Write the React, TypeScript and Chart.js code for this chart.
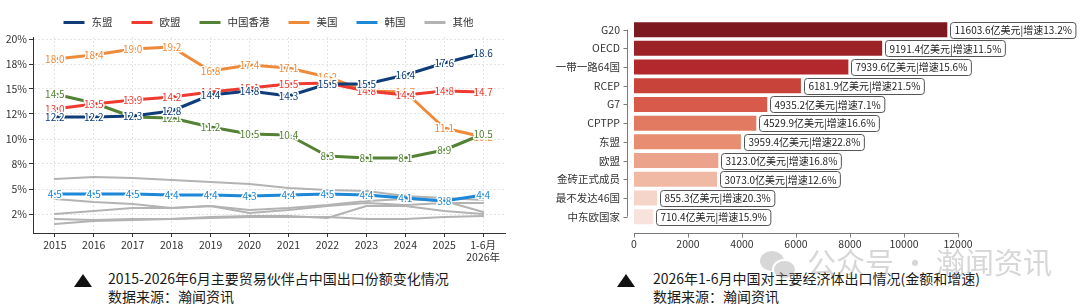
import React, { useEffect, useRef } from 'react';
import { Chart, registerables } from 'chart.js';

Chart.register(...registerables);

const FONT = '"Noto Sans CJK SC", "Noto Sans", sans-serif';

// ---- Export share by partner (percent of China's exports) ----
const years: (string | string[])[] = [
  '2015', '2016', '2017', '2018', '2019', '2020', '2021', '2022', '2023', '2024', '2025', ['1-6月', '2026年'],
];
const shareTickValues = [2.5, 5, 7.5, 10, 12.5, 15, 17.5, 20];
const shareTickLabels = ['2%', '5%', '8%', '10%', '12%', '15%', '18%', '20%'];

const asean = [12.2, 12.2, 12.3, 12.8, 14.4, 14.8, 14.3, 15.5, 15.5, 16.4, 17.6, 18.6];
const eu = [13.0, 13.5, 13.9, 14.2, 14.7, 15.1, 15.5, 15.6, 14.8, 14.4, 14.8, 14.7];
const hongKong = [14.5, 13.6, 12.2, 12.1, 11.2, 10.5, 10.4, 8.3, 8.1, 8.1, 8.9, 10.5];
const usa = [18.0, 18.4, 19.0, 19.2, 16.8, 17.4, 17.1, 16.2, 14.8, 14.7, 11.1, 10.2];
const korea = [4.5, 4.5, 4.5, 4.4, 4.4, 4.3, 4.4, 4.5, 4.4, 4.1, 3.8, 4.4];
const otherA = [6.0, 6.2, 6.1, 5.9, 5.7, 5.5, 5.1, 4.9, 4.8, 4.3, 4.1, 3.9];
const otherB = [4.0, 3.7, 3.5, 3.1, 3.3, 2.9, 3.1, 3.4, 3.8, 4.0, 3.8, 2.7];
const otherC = [2.5, 2.8, 3.1, 3.1, 3.3, 2.6, 2.9, 3.3, 3.6, 3.4, 3.6, 3.6];
const otherD = [2.0, 1.9, 2.0, 2.0, 2.2, 2.3, 2.3, 2.1, 3.3, 3.3, 2.8, 2.5];
const otherE = [1.5, 1.8, 1.9, 2.0, 2.1, 2.2, 2.2, 2.2, 2.0, 2.0, 2.2, 2.3];

// ---- Exports to major economies, Jan-Jun 2026 ----
const regions = ['G20', 'OECD', '一带一路64国', 'RCEP', 'G7', 'CPTPP', '东盟', '欧盟', '金砖正式成员', '最不发达46国', '中东欧国家'];
const exportValues = [11603.6, 9191.4, 7939.6, 6181.9, 4935.2, 4529.9, 3959.4, 3123.0, 3073.0, 855.3, 710.4];
const growthRates = [13.2, 11.5, 15.6, 21.5, 7.1, 16.6, 22.8, 16.8, 12.6, 20.3, 15.9];
const valueTicks = [0, 2000, 4000, 6000, 8000, 10000, 12000];

const barColors = ['#7d1a21', '#9b2227', '#b2282c', '#c8433a', '#d85a4a', '#e27a62', '#e88c72', '#eca38b', '#efb9a4', '#f5d5c9', '#f8e3dc'];
const GREY = '#b3b3b3';
const LEGEND_COUNT = 6;

// Value labels with a white halo, drawn right after each series so later series sit on top.
const pointLabels = {
  id: 'pointLabels',
  afterDatasetDraw(chart: any, args: any) {
    const ds = chart.data.datasets[args.index];
    if (!ds.values) return;
    const ctx = chart.ctx;
    ctx.save();
    ctx.font = `10px ${FONT}`;
    ctx.textAlign = 'center';
    ctx.textBaseline = 'middle';
    ctx.lineJoin = 'round';
    ctx.lineWidth = 3;
    ctx.strokeStyle = '#ffffff';
    ctx.fillStyle = ds.borderColor;
    args.meta.data.forEach((pt: any, i: number) => {
      const t = (ds.values[i] as number).toFixed(1);
      ctx.strokeText(t, pt.x, pt.y + 0.5);
      ctx.fillText(t, pt.x, pt.y + 0.5);
    });
    ctx.restore();
  },
};

// Single-row legend with line swatches, centred above the plot.
const lineLegend = {
  id: 'lineLegend',
  afterDraw(chart: any) {
    const ctx = chart.ctx;
    const items = chart.data.datasets.slice(0, LEGEND_COUNT);
    const swatch = 21;
    const gapText = 7;
    const gapItem = 19;
    ctx.save();
    ctx.font = `10.5px ${FONT}`;
    ctx.textBaseline = 'middle';
    const widths = items.map((ds: any) => swatch + gapText + ctx.measureText(ds.label).width);
    const total = widths.reduce((a: number, b: number) => a + b, 0) + gapItem * (items.length - 1);
    let x = chart.width / 2 - 1.5 - total / 2;
    const y = 22.5;
    items.forEach((ds: any, i: number) => {
      ctx.fillStyle = ds.borderColor;
      ctx.fillRect(x, y - 1.5, swatch, 3);
      ctx.fillStyle = '#333';
      ctx.fillText(ds.label, x + swatch + gapText, y);
      x += widths[i] + gapItem;
    });
    ctx.restore();
  },
};

function ShareChart() {
  const ref = useRef<HTMLCanvasElement>(null);
  useEffect(() => {
    const toPoints = (arr: number[]) => arr.map((v, i) => ({ x: i, y: v }));
    const main = [
      { label: '东盟', values: asean, color: '#0f3d7a' },
      { label: '欧盟', values: eu, color: '#ee3a31' },
      { label: '中国香港', values: hongKong, color: '#548235' },
      { label: '美国', values: usa, color: '#ee8b3b' },
      { label: '韩国', values: korea, color: '#1c88d7' },
    ].map((s) => ({
      label: s.label,
      data: toPoints(s.values),
      values: s.values,
      borderColor: s.color,
      backgroundColor: s.color,
      borderWidth: 3,
    }));
    const others = [otherA, otherB, otherC, otherD, otherE].map((arr) => ({
      label: '其他',
      data: toPoints(arr),
      borderColor: GREY,
      backgroundColor: GREY,
      borderWidth: 2,
    }));

    const chart = new Chart(ref.current as HTMLCanvasElement, {
      type: 'line',
      data: { datasets: [...main, ...others] as any },
      options: {
        responsive: false,
        animation: false,
        layout: { padding: { left: 0, right: 35, top: 37, bottom: 0 } },
        elements: {
          point: { radius: 0, hoverRadius: 0 },
          line: { tension: 0, borderJoinStyle: 'round', borderCapStyle: 'round' },
        },
        plugins: {
          tooltip: { enabled: false },
          legend: { display: false },
        },
        scales: {
          x: {
            type: 'linear',
            min: -0.56,
            max: 11.56,
            afterBuildTicks: (s: any) => {
              s.ticks = years.map((_, i) => ({ value: i }));
            },
            afterFit: (s: any) => {
              s.height = 29;
            },
            grid: {
              color: '#e4e4e4',
              tickColor: '#333',
              tickLength: 4,
              tickBorderDash: [],
            },
            border: { display: true, color: '#333', width: 1, dash: [2, 2] },
            ticks: {
              padding: 3,
              color: '#333',
              maxRotation: 0,
              autoSkip: false,
              font: { family: FONT, size: 10.5, lineHeight: 1.05 },
              callback: (v: any) => years[v as number],
            },
          },
          y: {
            min: 0.6,
            max: 20.2,
            afterBuildTicks: (s: any) => {
              s.ticks = shareTickValues.map((v) => ({ value: v }));
            },
            afterFit: (s: any) => {
              s.width = 33;
            },
            grid: {
              color: '#e4e4e4',
              tickColor: '#333',
              tickLength: 4,
              tickBorderDash: [],
            },
            border: { display: true, color: '#333', width: 1, dash: [2, 2] },
            ticks: {
              padding: 2,
              color: '#333',
              font: { family: FONT, size: 10.5 },
              callback: (_v: any, idx: number) => shareTickLabels[idx],
            },
          },
        },
      } as any,
      plugins: [pointLabels, lineLegend],
    });
    return () => chart.destroy();
  }, []);
  return <canvas ref={ref} width={540} height={262} style={{ position: 'absolute', left: 0, top: 0 }} />;
}

// Axis spines offset from the bars and trimmed to the tick range.
const trimmedSpines = {
  id: 'trimmedSpines',
  afterDraw(chart: any) {
    const { ctx, chartArea, scales } = chart;
    const xs = scales.x;
    const ys = scales.y;
    ctx.save();
    ctx.strokeStyle = '#7a7a7a';
    ctx.lineWidth = 1;
    ctx.beginPath();
    const sx = Math.round(chartArea.left - 7) + 0.5;
    const yTop = ys.getPixelForValue(0);
    const yBot = ys.getPixelForValue(regions.length - 1);
    ctx.moveTo(sx, yTop);
    ctx.lineTo(sx, yBot);
    regions.forEach((_, i) => {
      const yp = Math.round(ys.getPixelForValue(i)) + 0.5;
      ctx.moveTo(sx - 4, yp);
      ctx.lineTo(sx, yp);
    });
    const by = Math.round(chartArea.bottom + 7) + 0.5;
    ctx.moveTo(xs.getPixelForValue(valueTicks[0]), by);
    ctx.lineTo(xs.getPixelForValue(valueTicks[valueTicks.length - 1]), by);
    valueTicks.forEach((v) => {
      const xp = Math.round(xs.getPixelForValue(v)) + 0.5;
      ctx.moveTo(xp, by);
      ctx.lineTo(xp, by + 4);
    });
    ctx.stroke();
    ctx.restore();
  },
};

// Boxed amount / growth annotation at the end of each bar.
const barLabels = {
  id: 'barLabels',
  afterDatasetsDraw(chart: any) {
    const ctx = chart.ctx;
    const meta = chart.getDatasetMeta(0);
    ctx.save();
    ctx.font = `10px ${FONT}`;
    ctx.textBaseline = 'middle';
    meta.data.forEach((bar: any, i: number) => {
      const text = `${exportValues[i].toFixed(1)}亿美元|增速${growthRates[i].toFixed(1)}%`;
      const w = ctx.measureText(text).width;
      const h = 16;
      const bx = Math.round(bar.x + 3) + 0.5;
      const by = Math.round(bar.y - h / 2) + 0.5;
      ctx.beginPath();
      ctx.roundRect(bx, by, w + 8, h, 3);
      ctx.fillStyle = '#ffffff';
      ctx.fill();
      ctx.strokeStyle = '#555';
      ctx.lineWidth = 1;
      ctx.stroke();
      ctx.fillStyle = '#222';
      ctx.fillText(text, bx + 4, bar.y + 0.5);
    });
    ctx.restore();
  },
};

function ExportChart() {
  const ref = useRef<HTMLCanvasElement>(null);
  useEffect(() => {
    const chart = new Chart(ref.current as HTMLCanvasElement, {
      type: 'bar',
      data: {
        labels: regions,
        datasets: [
          {
            data: exportValues,
            backgroundColor: barColors,
            borderWidth: 0,
            categoryPercentage: 0.8,
            barPercentage: 1,
          },
        ],
      },
      options: {
        indexAxis: 'y',
        responsive: false,
        animation: false,
        layout: { padding: { left: 0, right: 122, top: 6, bottom: 0 } },
        plugins: { legend: { display: false }, tooltip: { enabled: false } },
        scales: {
          x: {
            min: 0,
            max: 12000,
            afterBuildTicks: (s: any) => {
              s.ticks = valueTicks.map((v) => ({ value: v }));
            },
            afterFit: (s: any) => {
              s.height = 30;
            },
            grid: { display: false, drawTicks: false },
            border: { display: false },
            ticks: {
              padding: 12,
              color: '#333',
              maxRotation: 0,
              font: { family: FONT, size: 10.5 },
              callback: (v: any) => String(v),
            },
          },
          y: {
            afterFit: (s: any) => {
              s.width = 94;
            },
            grid: { display: false, drawTicks: false },
            border: { display: false },
            ticks: {
              padding: 14,
              color: '#333',
              autoSkip: false,
              font: { family: FONT, size: 10.5 },
            },
          },
        },
      } as any,
      plugins: [trimmedSpines, barLabels],
    });
    return () => chart.destroy();
  }, []);
  return <canvas ref={ref} width={540} height={256} style={{ position: 'absolute', left: 540, top: 0 }} />;
}

function Caption({ left, triLeft, title }: { left: number; triLeft: number; title: string }) {
  return (
    <>
      <div
        style={{
          position: 'absolute',
          left: triLeft,
          top: 274,
          width: 0,
          height: 0,
          borderLeft: '9px solid transparent',
          borderRight: '9px solid transparent',
          borderBottom: '13px solid #111',
        }}
      />
      <div
        style={{
          position: 'absolute',
          left,
          top: 269,
          fontFamily: FONT,
          fontSize: 14,
          lineHeight: '18px',
          color: '#1a1a1a',
          whiteSpace: 'nowrap',
        }}
      >
        <div>{title}</div>
        <div>数据来源：瀚闻资讯</div>
      </div>
    </>
  );
}

function Watermark() {
  return (
    <div style={{ position: 'absolute', left: 758, top: 246, opacity: 0.35, pointerEvents: 'none' }}>
      <div style={{ position: 'absolute', left: 2, top: 5, width: 24, height: 20, borderRadius: '50%', background: '#8c8c8c' }} />
      <div
        style={{
          position: 'absolute',
          left: 14,
          top: 13,
          width: 21,
          height: 17,
          borderRadius: '50%',
          background: '#8c8c8c',
          border: '2px solid #fff',
        }}
      />
      <div
        style={{
          position: 'absolute',
          left: 49,
          top: -2,
          fontFamily: FONT,
          fontSize: 29,
          lineHeight: '34px',
          color: '#8c8c8c',
          whiteSpace: 'nowrap',
        }}
      >
        公众号 · 瀚闻资讯
      </div>
    </div>
  );
}

export default function App() {
  return (
    <div style={{ position: 'absolute', left: 0, top: 0, width: 1080, height: 308, background: '#fff', overflow: 'hidden' }}>
      <ShareChart />
      <ExportChart />
      <Caption left={108} triLeft={74} title="2015-2026年6月主要贸易伙伴占中国出口份额变化情况" />
      <Caption left={653} triLeft={617} title="2026年1-6月中国对主要经济体出口情况(金额和增速)" />
      <Watermark />
    </div>
  );
}
